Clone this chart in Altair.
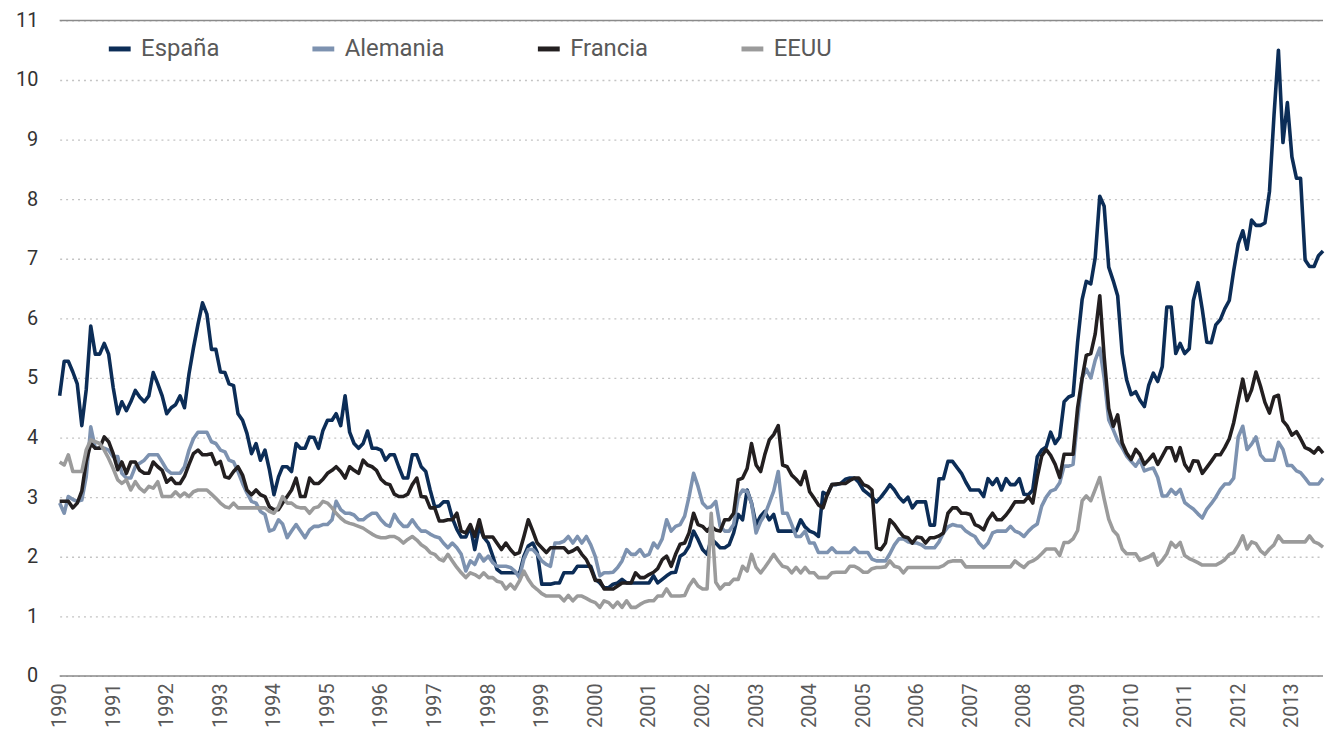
import altair as alt
import pandas as pd

series_names = ["España", "Alemania", "Francia", "EEUU"]
series_colors = ["#0c2d57", "#7d92b0", "#231f20", "#9b9b9b"]
start_month = "1990-01-01"
end_month = "2013-08-01"
year_ticks = list(range(1990, 2014))
y_ticks = list(range(0, 12))
frame_lines = [0, 11]

espana = [
    4.70, 5.28, 5.28, 5.10, 4.90, 4.20, 4.80, 5.87, 5.40, 5.40, 5.58, 5.40,
    4.84, 4.40, 4.60, 4.45, 4.60, 4.79, 4.68, 4.60, 4.70, 5.09, 4.90, 4.70,
    4.40, 4.50, 4.55, 4.70, 4.50, 5.07, 5.50, 5.90, 6.26, 6.07, 5.48, 5.48,
    5.10, 5.09, 4.90, 4.87, 4.40, 4.29, 4.07, 3.73, 3.90, 3.62, 3.79, 3.46,
    3.04, 3.34, 3.51, 3.51, 3.43, 3.90, 3.82, 3.82, 4.01, 4.00, 3.82, 4.12,
    4.29, 4.29, 4.40, 4.20, 4.70, 4.09, 3.90, 3.82, 3.90, 4.11, 3.82, 3.82,
    3.79, 3.62, 3.71, 3.71, 3.51, 3.32, 3.32, 3.71, 3.71, 3.51, 3.43, 3.12,
    2.84, 2.85, 2.92, 2.92, 2.65, 2.46, 2.33, 2.33, 2.51, 2.12, 2.51, 2.33,
    2.23, 2.01, 1.79, 1.73, 1.73, 1.73, 1.73, 1.71, 2.01, 2.18, 2.23, 2.07,
    1.54, 1.54, 1.54, 1.56, 1.56, 1.73, 1.73, 1.73, 1.84, 1.84, 1.84, 1.84,
    1.62, 1.56, 1.48, 1.48, 1.54, 1.56, 1.62, 1.56, 1.56, 1.56, 1.56, 1.56,
    1.56, 1.68, 1.56, 1.62, 1.68, 1.73, 1.74, 2.01, 2.06, 2.18, 2.43, 2.29,
    2.12, 2.04, 2.30, 2.23, 2.15, 2.15, 2.20, 2.40, 2.71, 2.62, 3.12, 2.90,
    2.54, 2.68, 2.76, 2.62, 2.71, 2.43, 2.43, 2.43, 2.43, 2.43, 2.62, 2.50,
    2.43, 2.40, 2.34, 3.08, 3.04, 3.21, 3.21, 3.23, 3.30, 3.32, 3.32, 3.25,
    3.12, 3.06, 3.00, 2.92, 3.00, 3.10, 3.21, 3.12, 3.00, 2.92, 3.00, 2.82,
    2.92, 2.92, 2.92, 2.53, 2.53, 3.31, 3.31, 3.60, 3.60, 3.50, 3.40, 3.25,
    3.12, 3.12, 3.12, 3.01, 3.31, 3.21, 3.31, 3.12, 3.31, 3.21, 3.21, 3.31,
    3.05, 3.04, 3.12, 3.68, 3.79, 3.84, 4.09, 3.90, 4.01, 4.60, 4.68, 4.71,
    5.60, 6.32, 6.62, 6.58, 7.02, 8.05, 7.88, 6.86, 6.63, 6.38, 5.41, 4.97,
    4.72, 4.77, 4.63, 4.52, 4.88, 5.08, 4.94, 5.19, 6.19, 6.19, 5.41, 5.58,
    5.41, 5.49, 6.30, 6.60, 6.15, 5.60, 5.59, 5.89, 5.98, 6.16, 6.30, 6.80,
    7.25, 7.47, 7.16, 7.65, 7.56, 7.56, 7.60, 8.13, 9.41, 10.50, 8.95, 9.62,
    8.71, 8.35, 8.35, 6.98, 6.87, 6.87, 7.05, 7.13,
]

alemania = [
    2.90, 2.73, 3.01, 2.96, 2.93, 2.95, 3.34, 4.18, 3.82, 3.82, 3.82, 3.79,
    3.68, 3.68, 3.40, 3.32, 3.32, 3.51, 3.57, 3.62, 3.71, 3.71, 3.71, 3.59,
    3.46, 3.40, 3.40, 3.40, 3.51, 3.79, 3.98, 4.09, 4.09, 4.09, 3.93, 3.90,
    3.79, 3.76, 3.62, 3.59, 3.43, 3.23, 3.07, 2.93, 2.90, 2.76, 2.71, 2.43,
    2.46, 2.62, 2.55, 2.32, 2.43, 2.54, 2.43, 2.32, 2.45, 2.51, 2.51, 2.54,
    2.54, 2.62, 2.93, 2.79, 2.73, 2.73, 2.70, 2.62, 2.62, 2.68, 2.73, 2.73,
    2.62, 2.54, 2.51, 2.71, 2.59, 2.51, 2.51, 2.62, 2.51, 2.43, 2.43, 2.38,
    2.34, 2.32, 2.23, 2.15, 2.23, 2.15, 2.04, 1.76, 1.93, 1.87, 2.04, 1.93,
    2.01, 1.90, 1.84, 1.84, 1.84, 1.82, 1.76, 1.65, 1.96, 2.12, 2.12, 2.04,
    1.93, 1.87, 1.84, 2.23, 2.23, 2.26, 2.34, 2.23, 2.34, 2.23, 2.34, 2.20,
    2.00, 1.68, 1.73, 1.73, 1.74, 1.82, 1.93, 2.12, 2.04, 2.04, 2.12, 2.01,
    2.04, 2.23, 2.15, 2.30, 2.62, 2.43, 2.51, 2.54, 2.68, 3.01, 3.40, 3.18,
    2.90, 2.82, 2.84, 2.93, 2.51, 2.43, 2.43, 2.54, 3.00, 3.12, 3.10, 2.90,
    2.40, 2.59, 2.70, 2.90, 3.10, 3.43, 2.73, 2.73, 2.54, 2.34, 2.34, 2.43,
    2.23, 2.23, 2.07, 2.07, 2.07, 2.15, 2.07, 2.07, 2.07, 2.07, 2.15, 2.07,
    2.07, 2.07, 1.96, 1.93, 1.93, 1.93, 2.05, 2.20, 2.30, 2.30, 2.25, 2.23,
    2.23, 2.20, 2.15, 2.15, 2.15, 2.25, 2.40, 2.50, 2.54, 2.52, 2.51, 2.43,
    2.38, 2.34, 2.23, 2.15, 2.23, 2.40, 2.43, 2.43, 2.43, 2.51, 2.43, 2.40,
    2.34, 2.43, 2.50, 2.55, 2.85, 3.00, 3.10, 3.13, 3.24, 3.52, 3.52, 3.55,
    4.30, 5.00, 5.15, 5.00, 5.30, 5.50, 5.00, 4.30, 4.13, 3.95, 3.83, 3.69,
    3.60, 3.52, 3.63, 3.44, 3.47, 3.49, 3.33, 3.02, 3.02, 3.13, 3.05, 3.13,
    2.91, 2.85, 2.80, 2.72, 2.65, 2.80, 2.89, 3.00, 3.13, 3.22, 3.22, 3.32,
    4.01, 4.19, 3.80, 3.89, 4.01, 3.71, 3.62, 3.62, 3.62, 3.92, 3.80, 3.53,
    3.53, 3.44, 3.41, 3.32, 3.22, 3.22, 3.22, 3.32,
]

francia = [
    2.93, 2.93, 2.93, 2.82, 2.90, 3.10, 3.60, 3.90, 3.82, 3.82, 4.01, 3.93,
    3.73, 3.46, 3.59, 3.40, 3.59, 3.59, 3.45, 3.40, 3.40, 3.59, 3.51, 3.45,
    3.25, 3.32, 3.23, 3.23, 3.35, 3.55, 3.73, 3.79, 3.71, 3.71, 3.73, 3.55,
    3.60, 3.34, 3.32, 3.43, 3.51, 3.37, 3.12, 3.04, 3.12, 3.04, 3.01, 2.84,
    2.79, 2.79, 2.90, 3.01, 3.12, 3.32, 3.01, 3.01, 3.32, 3.23, 3.23, 3.30,
    3.40, 3.45, 3.51, 3.43, 3.32, 3.51, 3.45, 3.40, 3.62, 3.54, 3.51, 3.45,
    3.30, 3.23, 3.21, 3.05, 3.01, 3.01, 3.05, 3.21, 3.32, 3.01, 3.00, 2.82,
    2.82, 2.60, 2.60, 2.62, 2.62, 2.73, 2.43, 2.40, 2.54, 2.34, 2.62, 2.33,
    2.33, 2.33, 2.23, 2.12, 2.23, 2.12, 2.04, 2.07, 2.34, 2.62, 2.43, 2.23,
    2.15, 2.07, 2.15, 2.15, 2.15, 2.15, 2.07, 2.10, 2.15, 2.04, 1.95, 1.80,
    1.60, 1.60, 1.46, 1.46, 1.46, 1.51, 1.56, 1.56, 1.56, 1.73, 1.65, 1.65,
    1.70, 1.74, 1.80, 1.95, 2.01, 1.84, 2.04, 2.21, 2.23, 2.40, 2.73, 2.54,
    2.51, 2.43, 2.51, 2.45, 2.43, 2.62, 2.62, 2.73, 3.29, 3.32, 3.48, 3.90,
    3.54, 3.43, 3.71, 3.96, 4.05, 4.20, 3.54, 3.51, 3.37, 3.30, 3.21, 3.43,
    3.09, 2.98, 2.87, 2.82, 3.05, 3.21, 3.22, 3.23, 3.23, 3.28, 3.32, 3.32,
    3.21, 3.18, 3.12, 2.15, 2.12, 2.23, 2.62, 2.54, 2.43, 2.34, 2.32, 2.23,
    2.33, 2.32, 2.23, 2.32, 2.32, 2.35, 2.40, 2.73, 2.82, 2.82, 2.73, 2.73,
    2.71, 2.54, 2.51, 2.45, 2.62, 2.73, 2.62, 2.62, 2.70, 2.80, 2.92, 2.92,
    2.92, 3.01, 2.90, 3.34, 3.69, 3.80, 3.70, 3.55, 3.33, 3.72, 3.72, 3.72,
    4.50, 5.00, 5.38, 5.41, 5.74, 6.38, 5.36, 4.49, 4.19, 4.38, 3.91, 3.74,
    3.63, 3.80, 3.72, 3.55, 3.63, 3.72, 3.55, 3.69, 3.83, 3.83, 3.61, 3.83,
    3.55, 3.44, 3.61, 3.60, 3.40, 3.50, 3.60, 3.71, 3.71, 3.83, 3.98, 4.25,
    4.62, 4.98, 4.62, 4.80, 5.10, 4.86, 4.59, 4.41, 4.68, 4.71, 4.28, 4.19,
    4.04, 4.10, 3.98, 3.83, 3.80, 3.74, 3.83, 3.74,
]

eeuu = [
    3.59, 3.54, 3.71, 3.43, 3.43, 3.43, 3.79, 3.96, 3.93, 3.90, 3.79, 3.65,
    3.48, 3.29, 3.23, 3.29, 3.12, 3.26, 3.15, 3.09, 3.18, 3.15, 3.26, 3.01,
    3.01, 3.01, 3.09, 3.01, 3.07, 3.01, 3.09, 3.12, 3.12, 3.12, 3.05, 2.98,
    2.90, 2.84, 2.82, 2.90, 2.82, 2.82, 2.82, 2.82, 2.82, 2.82, 2.82, 2.76,
    2.73, 2.84, 3.01, 2.90, 2.90, 2.84, 2.82, 2.82, 2.73, 2.82, 2.84, 2.93,
    2.90, 2.82, 2.73, 2.65, 2.59, 2.56, 2.54, 2.51, 2.48, 2.43, 2.38, 2.34,
    2.32, 2.32, 2.34, 2.34, 2.30, 2.23, 2.29, 2.34, 2.28, 2.20, 2.15, 2.07,
    2.04, 1.96, 1.93, 2.04, 1.93, 1.82, 1.73, 1.65, 1.73, 1.70, 1.65, 1.73,
    1.65, 1.65, 1.59, 1.57, 1.46, 1.54, 1.46, 1.59, 1.76, 1.62, 1.51, 1.45,
    1.38, 1.34, 1.34, 1.34, 1.34, 1.26, 1.35, 1.26, 1.34, 1.34, 1.30, 1.26,
    1.23, 1.15, 1.26, 1.23, 1.15, 1.24, 1.15, 1.26, 1.15, 1.15, 1.20, 1.24,
    1.26, 1.26, 1.34, 1.34, 1.46, 1.34, 1.34, 1.34, 1.35, 1.51, 1.62, 1.51,
    1.46, 1.46, 2.73, 1.57, 1.46, 1.54, 1.54, 1.62, 1.62, 1.84, 1.76, 2.04,
    1.82, 1.73, 1.82, 1.93, 2.04, 1.93, 1.84, 1.82, 1.73, 1.82, 1.73, 1.82,
    1.73, 1.73, 1.65, 1.65, 1.65, 1.73, 1.74, 1.74, 1.74, 1.84, 1.84, 1.80,
    1.74, 1.74, 1.80, 1.82, 1.82, 1.83, 1.93, 1.84, 1.82, 1.73, 1.82, 1.82,
    1.82, 1.82, 1.82, 1.82, 1.82, 1.82, 1.85, 1.91, 1.93, 1.93, 1.93, 1.83,
    1.83, 1.83, 1.83, 1.83, 1.83, 1.83, 1.83, 1.83, 1.83, 1.83, 1.93, 1.87,
    1.82, 1.90, 1.93, 1.98, 2.05, 2.13, 2.13, 2.13, 2.02, 2.24, 2.24, 2.30,
    2.44, 2.94, 3.02, 2.94, 3.13, 3.33, 2.97, 2.63, 2.44, 2.36, 2.13, 2.05,
    2.05, 2.05, 1.94, 1.97, 2.00, 2.05, 1.86, 1.94, 2.05, 2.24, 2.16, 2.24,
    2.02, 1.97, 1.94, 1.90, 1.86, 1.86, 1.86, 1.86, 1.90, 1.95, 2.04, 2.07,
    2.19, 2.35, 2.13, 2.25, 2.22, 2.10, 2.04, 2.13, 2.20, 2.35, 2.25, 2.25,
    2.25, 2.25, 2.25, 2.25, 2.35, 2.25, 2.22, 2.16,
]

all_series = [espana, alemania, francia, eeuu]
dates = pd.date_range(start_month, periods=len(espana), freq="MS")
rows = []
for name, vals in zip(series_names, all_series):
    for d, v in zip(dates, vals):
        rows.append({"fecha": d.strftime("%Y-%m-%d"), "serie": name, "valor": v})
df = pd.DataFrame(rows)

font = "Roboto, 'Noto Sans', sans-serif"

x_enc = alt.X(
    "fecha:T",
    scale=alt.Scale(type="utc", domain=[start_month, end_month]),
    axis=alt.Axis(
        values=[alt.DateTime(year=y, month=1, date=1, utc=True) for y in year_ticks],
        labelExpr="utcFormat(datum.value, '%Y')",
        labelAngle=270,
        labelAlign="right",
        labelBaseline="middle",
        labelPadding=7,
        labelFontSize=20,
        labelColor="#595959",
        labelFont=font,
        labelOverlap=False,
        domain=False,
        ticks=False,
        grid=False,
        title=None,
    ),
)
y_scale = alt.Scale(domain=[0, 11], nice=False)
y_axis = alt.Axis(
    values=y_ticks,
    grid=True,
    gridDash=[2, 4],
    gridColor="#c4c4c4",
    gridWidth=1.3,
    domain=False,
    ticks=False,
    labelFontSize=20,
    labelColor="#333333",
    labelFont=font,
    labelPadding=22,
    title=None,
)

color_enc = alt.Color(
    "serie:N",
    scale=alt.Scale(domain=series_names, range=series_colors),
    legend=alt.Legend(
        title=None,
        orient="none",
        direction="horizontal",
        legendX=47,
        legendY=15,
        symbolType="stroke",
        symbolSize=484,
        symbolStrokeWidth=5,
        labelFontSize=24,
        labelFont=font,
        labelFontWeight="normal",
        labelColor="#595959",
        labelOffset=8,
        columnPadding=83,
        padding=0,
    ),
)

frame = alt.Chart(pd.DataFrame({"v": frame_lines})).mark_rule(
    color="#8a8a8a", strokeWidth=1.5
).encode(y=alt.Y("v:Q", scale=y_scale, axis=y_axis))

layers = [frame]
for name in series_names:
    layers.append(
        alt.Chart(df)
        .transform_filter(alt.datum.serie == name)
        .mark_line(strokeWidth=3.6, strokeJoin="round")
        .encode(
            x=x_enc,
            y=alt.Y("valor:Q", scale=y_scale, axis=y_axis),
            color=color_enc,
        )
    )

chart = (
    alt.layer(*layers)
    .properties(
        width=1272,
        height=660,
        autosize=alt.AutoSizeParams(type="none"),
        padding={"left": 52, "top": 10, "right": 2, "bottom": 58},
    )
    .configure_view(stroke=None)
)

chart.save("out.html", embed_options={"renderer": "svg", "actions": False})
